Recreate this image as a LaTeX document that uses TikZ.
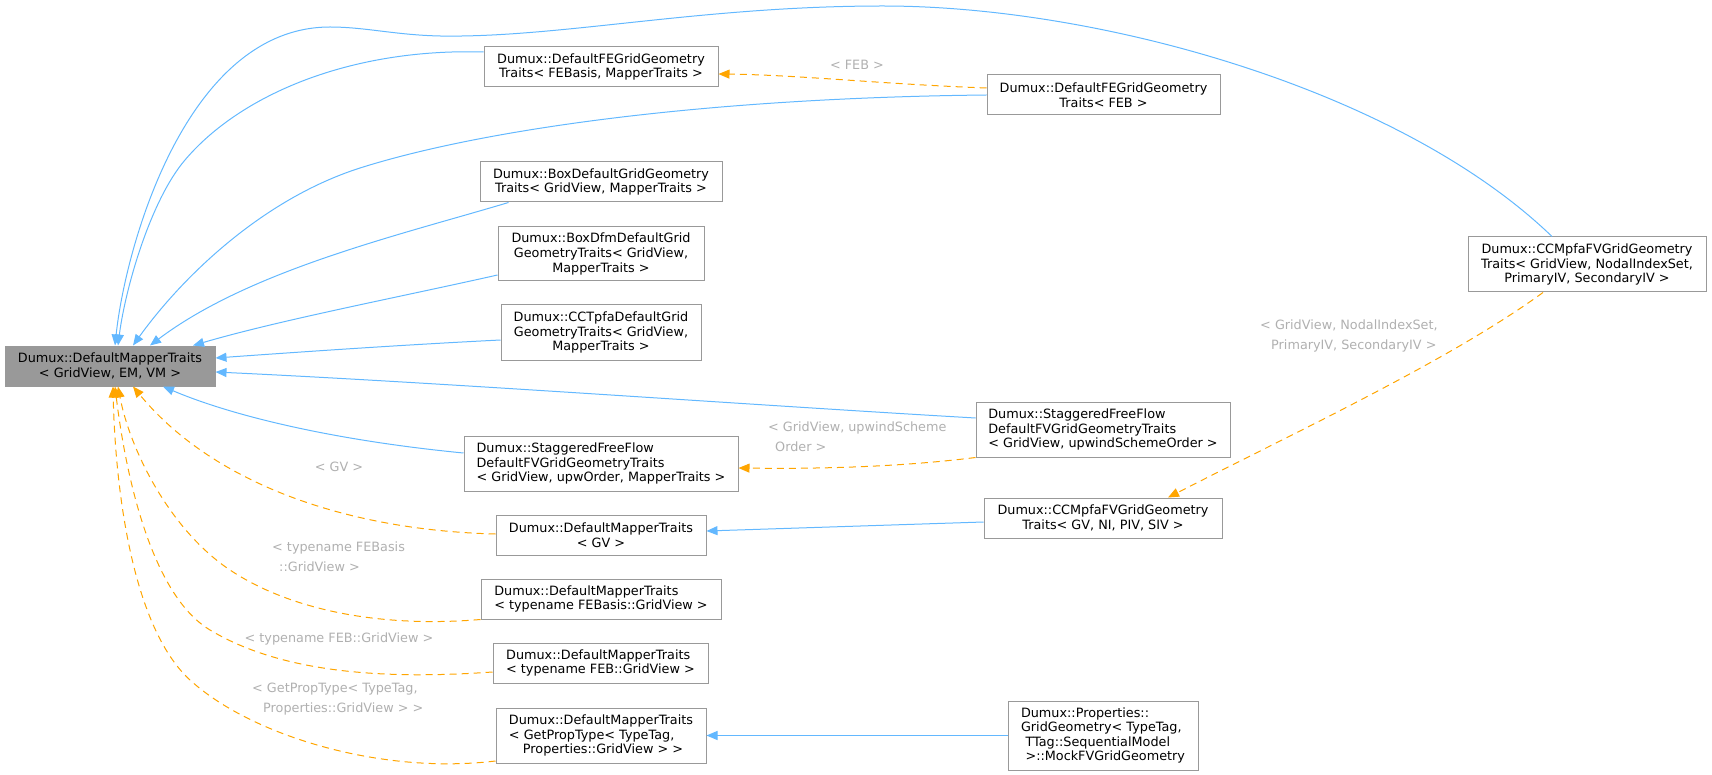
\documentclass[tikz,border=0pt]{standalone}
\usepackage{fontspec}
\setmainfont{DejaVu Sans}
\usetikzlibrary{arrows.meta,calc}
\definecolor{edgeblue}{HTML}{63B8FF}
\definecolor{edgeorange}{HTML}{FFA500}
\definecolor{boxline}{HTML}{999999}
\definecolor{rootfill}{HTML}{999999}
\definecolor{lblgray}{HTML}{B0B0B0}
\begin{document}
\begin{tikzpicture}[x=1pt,y=-1pt,
  cls/.style={draw=boxline, line width=1pt, fill=white, inner sep=0pt, align=center,
              font=\fontsize{12.8pt}{14.6pt}\selectfont},
  clsl/.style={cls, align=left},
  inh/.style={draw=edgeblue, line width=1pt, -{Triangle[length=11pt,width=9pt]}},
  tpl/.style={draw=edgeorange, line width=1pt, dash pattern=on 7pt off 5pt, -{Triangle[length=11pt,width=9pt]}},
  elbl/.style={text=lblgray, inner sep=0pt, align=left, font=\fontsize{12.8pt}{20pt}\selectfont},
]
\useasboundingbox (0,0) rectangle (1712,775);

% nodes
\node[cls, fill=rootfill, minimum width=210pt, minimum height=40pt] (root) at (110,366) {Dumux::DefaultMapperTraits\\< GridView, EM, VM >};
\node[cls, minimum width=234pt, minimum height=40pt] (feba) at (601,67) {Dumux::DefaultFEGridGeometry\\Traits< FEBasis, MapperTraits >};
\node[cls, minimum width=233pt, minimum height=40pt] (feb) at (1103.5,95) {Dumux::DefaultFEGridGeometry\\Traits< FEB >};
\node[cls, minimum width=238pt, minimum height=55pt] (ccm) at (1587,264.5) {Dumux::CCMpfaFVGridGeometry\\Traits< GridView, NodalIndexSet,\\PrimaryIV, SecondaryIV >};
\node[cls, minimum width=242pt, minimum height=40pt] (boxd) at (601,182) {Dumux::BoxDefaultGridGeometry\\Traits< GridView, MapperTraits >};
\node[cls, minimum width=206pt, minimum height=54pt] (dfm) at (601,254) {Dumux::BoxDfmDefaultGrid\\GeometryTraits< GridView,\\MapperTraits >};
\node[cls, minimum width=200pt, minimum height=55pt] (tpfa) at (601,332.5) {Dumux::CCTpfaDefaultGrid\\GeometryTraits< GridView,\\MapperTraits >};
\node[clsl, minimum width=274pt, minimum height=55pt] (upw) at (601,463.5) {Dumux::StaggeredFreeFlow\\DefaultFVGridGeometryTraits\\< GridView, upwOrder, MapperTraits >};
\node[clsl, minimum width=254pt, minimum height=55pt] (uso) at (1103,429.5) {Dumux::StaggeredFreeFlow\\DefaultFVGridGeometryTraits\\< GridView, upwindSchemeOrder >};
\node[cls, minimum width=210pt, minimum height=40pt] (gv) at (601,535) {Dumux::DefaultMapperTraits\\< GV >};
\node[cls, minimum width=238pt, minimum height=40pt] (ccmgv) at (1103,518) {Dumux::CCMpfaFVGridGeometry\\Traits< GV, NI, PIV, SIV >};
\node[clsl, minimum width=240pt, minimum height=40pt] (febgv) at (601,599) {Dumux::DefaultMapperTraits\\< typename FEBasis::GridView >};
\node[clsl, minimum width=215pt, minimum height=40pt] (febg) at (600.5,663) {Dumux::DefaultMapperTraits\\< typename FEB::GridView >};
\node[clsl, minimum width=210pt, minimum height=55pt] (gpt) at (601,735.5) {Dumux::DefaultMapperTraits\\< GetPropType< TypeTag,\\\hspace*{14pt}Properties::GridView > >};
\node[clsl, minimum width=190pt, minimum height=69pt] (prop) at (1103,735.5) {Dumux::Properties::\\GridGeometry< TypeTag,\\\hspace*{4.5pt}TTag::SequentialModel\\\hspace*{4.5pt}>::MockFVGridGeometry};

% edges into root (top)
\draw[inh] ($(ccm.north)+(-35,0)$) .. controls (1400,90) and (1100,6) .. (883,6)
  .. controls (700,6) and (560,38) .. (440,36)
  .. controls (395,35) and (365,27) .. (330,27)
  .. controls (185,27) and (125,250) .. ($(root.north)+(5,0)$);
\draw[inh] ($(feba.west)+(0,-15)$) .. controls (350,48) and (240,95) .. (185,160)
  .. controls (150,201) and (125,290) .. ($(root.north)+(8,0)$);
\draw[inh] (feb.west) .. controls (700,98) and (480,130) .. (360,168)
  .. controls (260,200) and (180,280) .. ($(root.north)+(23,0)$);
\draw[inh] ($(boxd.south west)+(29,0)$) .. controls (400,235) and (250,270) .. ($(root.north)+(40,0)$);
\draw[inh] ($(dfm.west)+(0,21)$) .. controls (400,297) and (280,320) .. ($(root.north)+(83,0)$);
% right side
\draw[inh] ($(tpfa.west)+(0,7.5)$) .. controls (400,345) and (300,352) .. ($(root.east)+(0,-8)$);
\draw[inh] ($(uso.west)+(0,-11.5)$) .. controls (750,405) and (450,383) .. ($(root.east)+(0,6)$);
% bottom
\draw[inh] ($(upw.west)+(0,-10.5)$) .. controls (330,440) and (230,415) .. ($(root.south)+(53,0)$);
\draw[tpl] ($(gv.west)+(0,-1)$) .. controls (340,530) and (210,480) .. ($(root.south)+(23,0)$);
\draw[tpl] (febgv.south west) .. controls (380,628) and (290,610) .. (230,570)
  .. controls (170,530) and (130,450) .. ($(root.south)+(8,0)$);
\draw[tpl] ($(febg.west)+(0,9)$) .. controls (380,680) and (280,672) .. (210,630)
  .. controls (150,594) and (125,470) .. ($(root.south)+(5,0)$);
\draw[tpl] ($(gpt.west)+(0,25.5)$) .. controls (380,775) and (250,735) .. (190,680)
  .. controls (130,625) and (115,480) .. ($(root.south)+(3,0)$);

% other edges
\draw[tpl] ($(feb.west)+(0,-7)$) .. controls (880,84) and (800,75) .. ($(feba.east)+(0,7)$);
\draw[tpl] (uso.south west) .. controls (900,467) and (820,469) .. ($(upw.east)+(0,4.5)$);
\draw[inh] ($(ccmgv.west)+(0,4)$) -- ($(gv.east)+(0,-4)$);
\draw[tpl] ($(ccm.south)+(-44,0)$) .. controls (1450,360) and (1300,430) .. ($(ccmgv.north)+(65,0)$);
\draw[inh] (prop.west) -- (gpt.east);

% edge labels
\node[elbl] (l1) at (857,65) {< FEB >};
\node[elbl] (l2) at (339,467) {< GV >};
\node[elbl, anchor=west] (l3) at (272,557) {< typename FEBasis\\\hspace*{7pt}::GridView >};
\node[elbl] (l4) at (339,639) {< typename FEB::GridView >};
\node[elbl, anchor=west] (l5) at (252,699.5) {< GetPropType< TypeTag,\\\hspace*{11pt}Properties::GridView > >};
\node[elbl, anchor=west] (l6) at (768,437) {< GridView, upwindScheme\\\hspace*{7pt}Order >};
\node[elbl, anchor=west] (l7) at (1260,336) {< GridView, NodalIndexSet,\\\hspace*{11pt}PrimaryIV, SecondaryIV >};
\end{tikzpicture}
\end{document}
